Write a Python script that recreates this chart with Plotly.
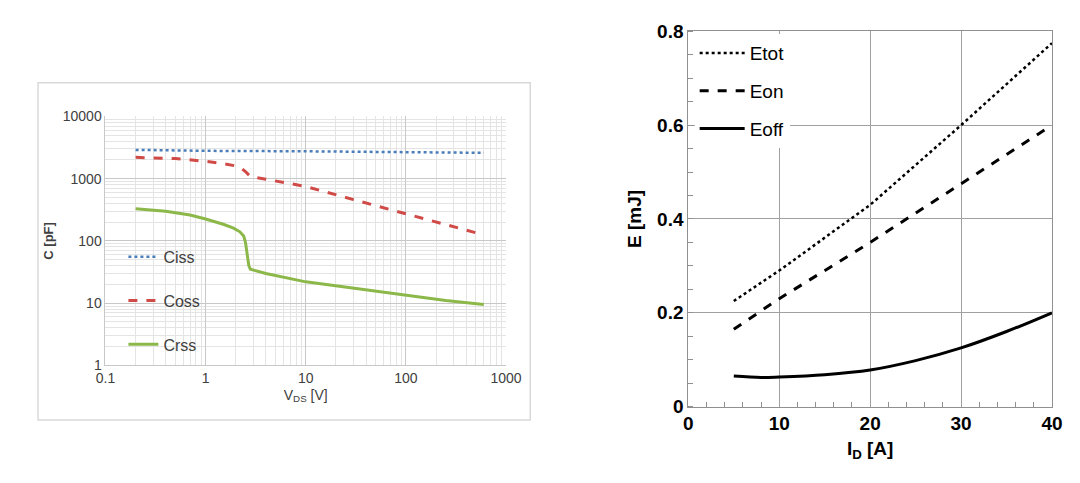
import plotly.graph_objects as go

def capacitance(fig, vds, ciss, coss, crss):
    fig.add_trace(go.Scatter(x=vds["ciss"], y=ciss, name="Ciss", mode="lines", legend="legend", legendgroup="a",
                             line=dict(color="#4a7ebb", width=2.5, dash="dot"), xaxis="x", yaxis="y"))
    fig.add_trace(go.Scatter(x=vds["coss"], y=coss, name="Coss", mode="lines", legend="legend", legendgroup="b",
                             line=dict(color="#d04a47", width=3, dash="dash"), xaxis="x", yaxis="y"))
    fig.add_trace(go.Scatter(x=vds["crss"], y=crss, name="Crss", mode="lines", legend="legend", legendgroup="c",
                             line=dict(color="#8cb84a", width=3), xaxis="x", yaxis="y"))

def switching_energy(fig, id_a, etot, eon, eoff_x, eoff):
    fig.add_trace(go.Scatter(x=id_a, y=etot, name="Etot", mode="lines", legend="legend2", legendgroup="d",
                             line=dict(color="black", width=2.5, dash="dot"), xaxis="x2", yaxis="y2"))
    fig.add_trace(go.Scatter(x=id_a, y=eon, name="Eon", mode="lines", legend="legend2", legendgroup="e",
                             line=dict(color="black", width=3, dash="dash"), xaxis="x2", yaxis="y2"))
    fig.add_trace(go.Scatter(x=eoff_x, y=eoff, name="Eoff", mode="lines", legend="legend2", legendgroup="f",
                             line=dict(color="black", width=3, shape="spline"), xaxis="x2", yaxis="y2"))

vds = {
    "ciss": [0.2, 1, 10, 100, 600],
    "coss": [0.2, 0.5, 1, 1.5, 2, 2.3, 2.5, 2.8, 4, 10, 30, 80, 200, 600],
    "crss": [0.2, 0.4, 0.7, 1, 1.5, 1.9, 2.2, 2.4, 2.5, 2.6, 2.7, 2.8, 4, 10, 30, 100, 250, 600],
}
ciss = [2900, 2800, 2750, 2700, 2600]
coss = [2200, 2100, 1900, 1750, 1600, 1450, 1300, 1080, 980, 750, 460, 300, 200, 125]
crss = [330, 300, 260, 225, 185, 160, 140, 120, 95, 60, 40, 35, 30, 22, 17.5, 13.5, 11, 9.5]
id_a = [5, 10, 20, 30, 40]
etot = [0.225, 0.29, 0.43, 0.6, 0.775]
eon = [0.165, 0.23, 0.35, 0.475, 0.6]
eoff_x = [5, 8, 10, 15, 20, 25, 30, 35, 40]
eoff = [0.065, 0.062, 0.063, 0.068, 0.078, 0.098, 0.125, 0.16, 0.2]

fig = go.Figure()
capacitance(fig, vds, ciss, coss, crss)
switching_energy(fig, id_a, etot, eon, eoff_x, eoff)

fig.update_layout(
    width=1080, height=483, margin=dict(l=0, r=0, t=0, b=0),
    paper_bgcolor="white", plot_bgcolor="white",
    font=dict(family="Liberation Sans, Arial", color="#404040"),
    xaxis=dict(type="log", domain=[0.083, 0.463], range=[-1, 3], anchor="y",
               tickvals=[0.1, 1, 10, 100, 1000], ticktext=["0.1", "1", "10", "100", "1000"],
               showgrid=True, gridcolor="#c8c8c8", linecolor="#c8c8c8", ticks="",
               minor=dict(dtick="D1", showgrid=True, gridcolor="#e4e4e4"),
               tickfont=dict(size=14), title=dict(text="V<sub>DS</sub> [V]", font=dict(size=14), standoff=4)),
    yaxis=dict(type="log", domain=[0.248, 0.787], range=[0, 4], anchor="x",
               tickvals=[1, 10, 100, 1000, 10000], ticktext=["1", "10", "100", "1000", "10000"],
               showgrid=True, gridcolor="#c8c8c8", linecolor="#c8c8c8", ticks="",
               minor=dict(dtick="D1", showgrid=True, gridcolor="#e4e4e4"),
               tickfont=dict(size=14), title=dict(text="<b>C [pF]</b>", font=dict(size=13), standoff=6)),
    xaxis2=dict(domain=[0.636, 0.981], range=[0, 40], dtick=10, anchor="y2",
                showgrid=True, gridcolor="#a0a0a0", linecolor="#909090", mirror=True,
                ticks="", minor=dict(dtick=2, ticks="inside", ticklen=5, tickcolor="#909090"),
                tickfont=dict(size=19, color="black", weight="bold"),
                title=dict(text="<b>I<sub>D</sub> [A]</b>", font=dict(size=19, color="black"), standoff=8)),
    yaxis2=dict(domain=[0.159, 0.971], range=[0, 0.8], anchor="x2",
                tickvals=[0, 0.2, 0.4, 0.6, 0.8], ticktext=["0", "0.2", "0.4", "0.6", "0.8"],
                showgrid=True, gridcolor="#a0a0a0", linecolor="#909090", mirror=True,
                ticks="", minor=dict(dtick=0.05, ticks="inside", ticklen=5, tickcolor="#909090"),
                tickfont=dict(size=19, color="black", weight="bold"),
                title=dict(text="<b>E [mJ]</b>", font=dict(size=19, color="black"), standoff=10)),
    legend=dict(x=0.1, y=0.52, xanchor="left", yanchor="top", bgcolor="rgba(0,0,0,0)",
                tracegroupgap=20, font=dict(size=16), itemwidth=30),
    legend2=dict(x=0.642, y=0.965, xanchor="left", yanchor="top", bgcolor="white",
                 tracegroupgap=10, font=dict(size=19, color="black"), itemwidth=45),
)
fig.add_shape(type="rect", xref="paper", yref="paper", x0=0.019, x1=0.486, y0=0.13, y1=0.86,
              line=dict(color="#d9d9d9", width=1.5))
fig.write_html("out.html")
